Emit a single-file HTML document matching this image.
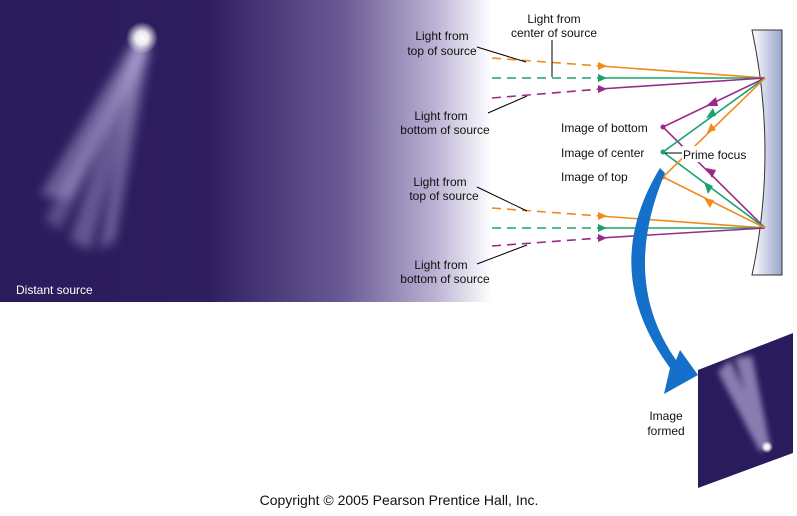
<!DOCTYPE html>
<html><head><style>
html,body{margin:0;padding:0;background:#fff;}
body{width:797px;height:511px;overflow:hidden;position:relative;font-family:"Liberation Sans",sans-serif;}
</style></head><body>
<svg width="797" height="511" viewBox="0 0 797 511" xmlns="http://www.w3.org/2000/svg" font-family="Liberation Sans, sans-serif">
<defs>
<linearGradient id="bg" x1="0" x2="1" y1="0" y2="0">
<stop offset="0" stop-color="#2a1b5c"/>
<stop offset="0.42" stop-color="#2e1e60"/>
<stop offset="0.7" stop-color="#6a5a95"/>
<stop offset="0.88" stop-color="#b9b0d2"/>
<stop offset="1" stop-color="#ffffff"/>
</linearGradient>
<linearGradient id="mir" x1="0" x2="1">
<stop offset="0" stop-color="#ffffff"/>
<stop offset="1" stop-color="#98a3c9"/>
</linearGradient>
<radialGradient id="head"><stop offset="0" stop-color="#fff"/><stop offset="0.4" stop-color="#fff" stop-opacity="0.9"/><stop offset="1" stop-color="#fff" stop-opacity="0"/></radialGradient>
<filter id="blur"><feGaussianBlur stdDeviation="5"/></filter>
<filter id="blur2"><feGaussianBlur stdDeviation="3"/></filter>
</defs>
<rect x="0" y="0" width="492" height="302" fill="url(#bg)"/>
<g filter="url(#blur)" fill="#b8addc">
<path d="M132 42 L148 46 L70 200 L40 195 Z" opacity="0.45"/>
<path d="M135 45 L150 50 L115 240 L100 250 Z" opacity="0.45"/>
<path d="M133 45 L148 48 L90 250 L70 240 Z" opacity="0.4"/>
<path d="M136 45 L150 50 L60 230 L45 220 Z" opacity="0.35"/>
</g>
<circle cx="142" cy="38" r="16" fill="url(#head)"/>
<text x="16" y="294" font-size="12" fill="#fff">Distant source</text>

<path d="M752 30 L782 30 L782 275 L752 275 Q778 152 752 30 Z" fill="url(#mir)" stroke="#333" stroke-width="1"/>

<g fill="none" stroke-width="1.6">
<path d="M492 58 L600 66" stroke="#f08a1c" stroke-dasharray="9,6"/>
<path d="M600 66 L765 78" stroke="#f08a1c"/>
<path d="M492 78 L600 78" stroke="#1aa36d" stroke-dasharray="9,6"/>
<path d="M600 78 L765 78" stroke="#1aa36d"/>
<path d="M492 98 L600 89" stroke="#9a2a8a" stroke-dasharray="9,6"/>
<path d="M600 89 L765 78" stroke="#9a2a8a"/>
<path d="M492 208 L600 216" stroke="#f08a1c" stroke-dasharray="9,6"/>
<path d="M600 216 L765 228" stroke="#f08a1c"/>
<path d="M492 228 L600 228" stroke="#1aa36d" stroke-dasharray="9,6"/>
<path d="M600 228 L765 228" stroke="#1aa36d"/>
<path d="M492 246 L600 238" stroke="#9a2a8a" stroke-dasharray="9,6"/>
<path d="M600 238 L765 228" stroke="#9a2a8a"/>
<path d="M765 78 L663 127 L765 228" stroke="#9a2a8a"/>
<path d="M765 78 L663 152 L765 228" stroke="#1aa36d"/>
<path d="M765 78 L663 177 L765 228" stroke="#f08a1c"/>
</g>
<g>
<polygon points="607,66 598,62 598,70" fill="#f08a1c"/>
<polygon points="607,78 598,74 598,82" fill="#1aa36d"/>
<polygon points="607,89 598,85 598,93" fill="#9a2a8a"/>
<polygon points="607,216 598,212 598,220" fill="#f08a1c"/>
<polygon points="607,228 598,224 598,232" fill="#1aa36d"/>
<polygon points="607,238 598,234 598,242" fill="#9a2a8a"/>
<polygon points="706,106 716,97 718,106" fill="#9a2a8a"/>
<polygon points="706,118 713,108 716,116" fill="#1aa36d"/>
<polygon points="707,133 711,123 716,130" fill="#f08a1c"/>
<polygon points="706,168 716,170 712,178" fill="#9a2a8a"/>
<polygon points="704,182 713,186 708,194" fill="#1aa36d"/>
<polygon points="704,198 714,200 710,208" fill="#f08a1c"/>
<circle cx="663" cy="127" r="2.5" fill="#9a2a8a"/>
<circle cx="663" cy="152" r="2.5" fill="#1aa36d"/>
<circle cx="663" cy="177" r="2.5" fill="#f08a1c"/>
</g>
<rect x="682" y="146" width="70" height="16" fill="#fff"/>
<line x1="665" y1="153" x2="682" y2="153" stroke="#000" stroke-width="1"/>

<path d="M660 168 Q598 270 670 368 L664 394 L698 375 L680 350 L676 360 Q620 280 665 173 Z" fill="#1470c8"/>

<polygon points="698,370 793,333 793,453 698,488" fill="#2a1b5c"/>
<g filter="url(#blur2)" fill="#c8bde8" opacity="0.6">
<path d="M718 372 L730 360 L770 445 L760 452 Z"/>
<path d="M735 358 L752 356 L770 445 L762 450 Z"/>
</g>
<circle cx="767" cy="447" r="6" fill="url(#head)"/>

<g stroke="#000" stroke-width="1">
<line x1="477" y1="47" x2="526" y2="62"/>
<line x1="552" y1="40" x2="552" y2="77"/>
<line x1="488" y1="113" x2="527" y2="96"/>
<line x1="477" y1="187" x2="527" y2="211"/>
<line x1="477" y1="264" x2="527" y2="245"/>
</g>

<g font-size="12" fill="#111">
<text x="442" y="40" text-anchor="middle">Light from</text>
<text x="442" y="55" text-anchor="middle">top of source</text>
<text x="554" y="23" text-anchor="middle">Light from</text>
<text x="554" y="37" text-anchor="middle">center of source</text>
<text x="441" y="120" text-anchor="middle">Light from</text>
<text x="445" y="134" text-anchor="middle">bottom of source</text>
<text x="440" y="186" text-anchor="middle">Light from</text>
<text x="444" y="200" text-anchor="middle">top of source</text>
<text x="441" y="269" text-anchor="middle">Light from</text>
<text x="445" y="283" text-anchor="middle">bottom of source</text>
<text x="561" y="132">Image of bottom</text>
<text x="561" y="157">Image of center</text>
<text x="561" y="181">Image of top</text>
<text x="683" y="159">Prime focus</text>
<text x="666" y="420" text-anchor="middle">Image</text>
<text x="666" y="435" text-anchor="middle">formed</text>
</g>
<text x="399" y="505" font-size="14" text-anchor="middle" fill="#111">Copyright © 2005 Pearson Prentice Hall, Inc.</text>
</svg>
</body></html>
